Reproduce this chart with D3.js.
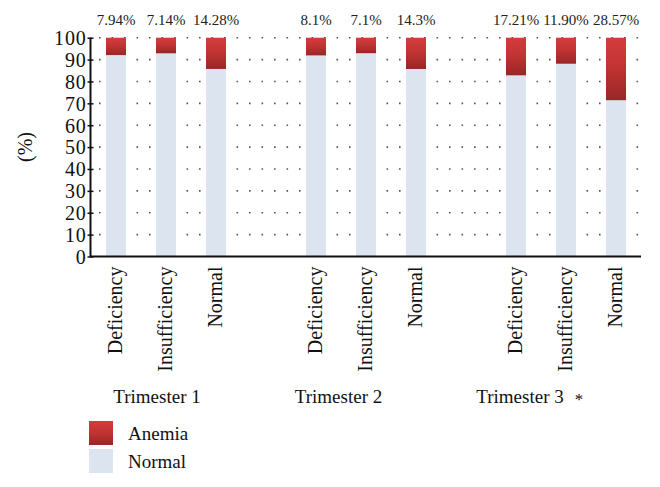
<!DOCTYPE html>
<html><head><meta charset="utf-8">
<script src="https://cdn.jsdelivr.net/npm/d3@7"></script>
<style>body{margin:0;background:#fff;} svg{display:block;}</style>
</head><body>
<svg id="c" width="660" height="487"></svg>
<script>
const trimesters = ["Trimester 1", "Trimester 2", "Trimester 3"];
const categories = ["Deficiency", "Insufficiency", "Normal"];
const anemiaValues = [[7.94, 7.14, 14.28], [8.1, 7.1, 14.3], [17.21, 11.90, 28.57]];
const anemiaLabels = [["7.94%", "7.14%", "14.28%"], ["8.1%", "7.1%", "14.3%"], ["17.21%", "11.90%", "28.57%"]];
const yTicks = [0, 10, 20, 30, 40, 50, 60, 70, 80, 90, 100];
const legendItems = ["Anemia", "Normal"];

const svg = d3.select("#c");
const font = "Liberation Serif, Times New Roman, serif";

// slots: 3 bars per group, one empty slot between groups
const slots = [];
trimesters.forEach((t, gi) => {
  categories.forEach((c, ci) => slots.push({key: gi + "-" + ci, t, c, gi, ci,
    anemia: anemiaValues[gi][ci], label: anemiaLabels[gi][ci]}));
  if (gi < trimesters.length - 1) slots.push({key: "gap" + gi, gap: true});
});
const bars = slots.filter(d => !d.gap);

const x = d3.scaleBand().domain(slots.map(d => d.key)).range([91, 641]).paddingInner(0.6).paddingOuter(0.3);
const y = d3.scaleLinear().domain([0, 100]).range([256.5, 37.7]);
const gx = d3.scalePoint().domain(trimesters).range([157, 520]);

const defs = svg.append("defs");
const grad = defs.append("linearGradient").attr("id", "red").attr("x1", 0).attr("y1", 0).attr("x2", 0).attr("y2", 1);
grad.append("stop").attr("offset", "0%").attr("stop-color", "#d43c3c");
grad.append("stop").attr("offset", "45%").attr("stop-color", "#c23434");
grad.append("stop").attr("offset", "100%").attr("stop-color", "#992626");

// grid
svg.append("g").selectAll("line").data(yTicks.filter(d => d > 0)).join("line")
  .attr("x1", 91).attr("x2", 641).attr("y1", d => y(d)).attr("y2", d => y(d))
  .attr("stroke", "#555").attr("stroke-width", 1.6).attr("stroke-dasharray", "1.6,10.9").attr("stroke-dashoffset", -8);

// bars
const bw = x.bandwidth();
svg.append("g").selectAll("rect").data(bars).join("rect")
  .attr("x", d => x(d.key)).attr("width", bw)
  .attr("y", d => y(100 - d.anemia)).attr("height", d => y(0) - y(100 - d.anemia))
  .attr("fill", "#dce5ef");
svg.append("g").selectAll("rect").data(bars).join("rect")
  .attr("x", d => x(d.key)).attr("width", bw)
  .attr("y", y(100)).attr("height", d => y(100 - d.anemia) - y(100))
  .attr("fill", "url(#red)");

// top labels
svg.append("g").selectAll("text").data(bars).join("text")
  .attr("x", d => x(d.key) + bw / 2).attr("y", 25)
  .attr("text-anchor", "middle").attr("font-family", font).attr("font-size", 15).attr("fill", "#222")
  .text(d => d.label);

// y axis
const yAxis = svg.append("g").attr("transform", "translate(90.5,0)")
  .call(d3.axisLeft(y).tickValues(yTicks).tickSize(3).tickPadding(2));
yAxis.select(".domain").attr("stroke", "#111").attr("stroke-width", 2).attr("d", `M0,${y(100)}V${y(0)}`);
yAxis.selectAll(".tick line").attr("stroke", "#111").attr("stroke-width", 1.5).attr("x2", 3).attr("x1", -3);
yAxis.selectAll(".tick text").attr("font-family", font).attr("font-size", 20).attr("fill", "#111")
  .attr("letter-spacing", 0.8).attr("x", -4).attr("dy", "0.34em");

// x axis
const xAxis = svg.append("g").attr("transform", `translate(0,${y(0)})`)
  .call(d3.axisBottom(x).tickValues(bars.map(d => d.key)).tickSize(0).tickFormat(k => bars.find(b => b.key === k).c));
xAxis.select(".domain").attr("stroke", "#111").attr("stroke-width", 2).attr("d", "M90,0H641");
xAxis.selectAll(".tick text").attr("font-family", font).attr("font-size", 20).attr("fill", "#111")
  .attr("text-anchor", "end").attr("transform", "rotate(-90)").attr("x", -10).attr("y", 0).attr("dy", "0.3em");

// trimester labels
svg.append("g").selectAll("text").data(trimesters).join("text")
  .attr("x", d => gx(d)).attr("y", 403).attr("text-anchor", "middle")
  .attr("font-family", font).attr("font-size", 19).attr("fill", "#111").text(d => d);
svg.append("text").attr("x", 579).attr("y", 405).attr("text-anchor", "middle")
  .attr("font-family", font).attr("font-size", 17).attr("fill", "#111").text("*");

// y label
svg.append("text").attr("transform", "translate(32,147) rotate(-90)").attr("text-anchor", "middle")
  .attr("font-family", font).attr("font-size", 20).attr("fill", "#111").text("(%)");

// legend
const leg = svg.append("g").selectAll("g").data(legendItems).join("g")
  .attr("transform", (d, i) => `translate(89,${421 + i * 28})`);
leg.append("rect").attr("width", 24).attr("height", 24).attr("fill", (d, i) => i === 0 ? "url(#red)" : "#dce5ef");
leg.append("text").attr("x", 39).attr("y", 19).attr("font-family", font).attr("font-size", 19).attr("fill", "#111").text(d => d);
</script>
</body></html>
